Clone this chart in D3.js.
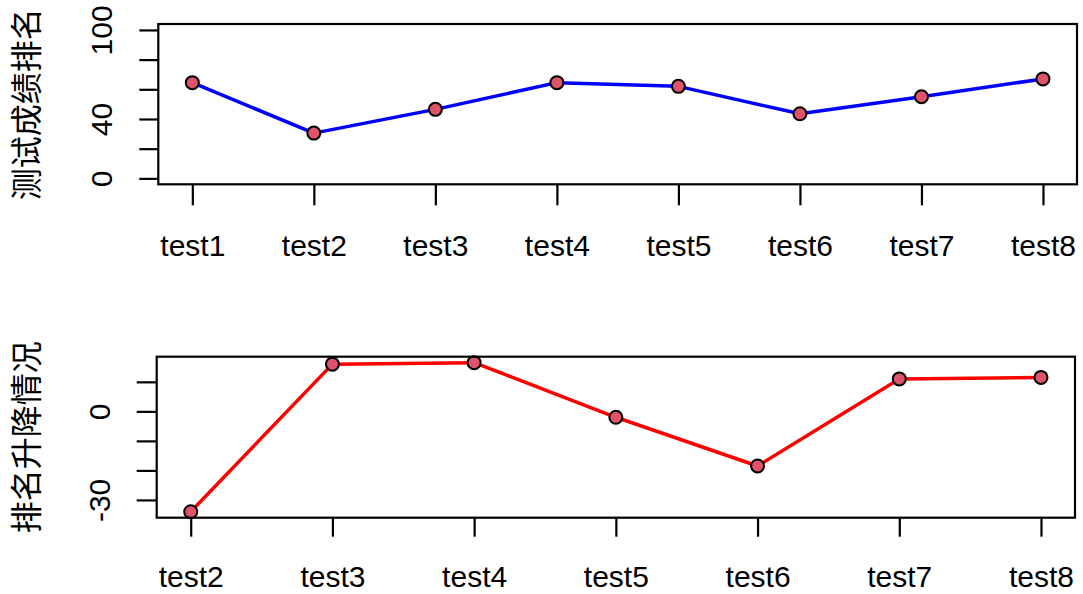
<!DOCTYPE html>
<html>
<head>
<meta charset="utf-8">
<script src="https://cdn.jsdelivr.net/npm/d3@7/dist/d3.min.js"></script>
<style>
  html, body { margin: 0; padding: 0; background: #fff; }
  svg { display: block; }
</style>
</head>
<body>
<svg id="chart" width="1083" height="594"></svg>
<script>
// ---- data ----
const tests1 = ["test1","test2","test3","test4","test5","test6","test7","test8"];
const scores = [64.5, 30.5, 46.5, 64.5, 62, 43.5, 55, 67];
const tests2 = ["test2","test3","test4","test5","test6","test7","test8"];
const changes = [-34, 16, 16.5, -2, -18.5, 11, 11.5];
const yTicks1 = [0, 20, 40, 60, 80, 100];
const yLabels1 = [0, 40, 100];
const yTicks2 = [-30, -20, -10, 0, 10];
const yLabels2 = [-30, 0];
const title1 = "测试成绩排名";
const title2 = "排名升降情况";

const svg = d3.select("#chart");
svg.append("rect").attr("width", 1083).attr("height", 594).attr("fill", "#fff");

const FONT = "'Liberation Sans', Arial, sans-serif";
const CJK = "'Noto Sans CJK SC', sans-serif";

function panel(cfg) {
  const { cats, vals, box, yDomain, yTicks, yLabels, lineColor, title,
          xTick, xLabelOff, yTick, yLabelX } = cfg;
  const n = cats.length;
  const pad = 0.04 * (n - 1);
  const x = d3.scaleLinear().domain([-pad, n - 1 + pad]).range([box.l, box.r]);
  const y = d3.scaleLinear().domain(yDomain).range([box.b, box.t]);

  const g = svg.append("g");

  // line
  const line = d3.line().x((d, i) => x(i)).y(d => y(d));
  g.append("path").datum(vals)
    .attr("d", line).attr("fill", "none")
    .attr("stroke", lineColor).attr("stroke-width", 3.5)
    .attr("stroke-linejoin", "round");

  // points
  g.selectAll("circle.pt").data(vals).join("circle")
    .attr("class", "pt")
    .attr("cx", (d, i) => x(i)).attr("cy", d => y(d))
    .attr("r", 6.5)
    .attr("fill", "#DF536B").attr("stroke", "#000").attr("stroke-width", 2);

  // box
  g.append("rect")
    .attr("x", box.l).attr("y", box.t)
    .attr("width", box.r - box.l).attr("height", box.b - box.t)
    .attr("fill", "none").attr("stroke", "#000").attr("stroke-width", 2.2);

  // x axis
  const xa = d3.axisBottom(x)
    .tickValues(d3.range(n))
    .tickFormat(i => cats[i])
    .tickSize(xTick).tickSizeOuter(0);
  const gx = g.append("g").attr("transform", `translate(0,${box.b})`).call(xa);
  gx.select(".domain").remove();
  gx.selectAll(".tick line").attr("stroke", "#000").attr("stroke-width", 2.2);
  gx.selectAll(".tick text")
    .attr("y", xLabelOff).attr("dy", 0)
    .attr("fill", "#000")
    .style("font-family", FONT).style("font-size", "30px");

  // y axis
  const ya = d3.axisLeft(y)
    .tickValues(yTicks)
    .tickFormat(d => yLabels.includes(d) ? d : "")
    .tickSize(yTick).tickSizeOuter(0);
  const gy = g.append("g").attr("transform", `translate(${box.l},0)`).call(ya);
  gy.select(".domain").remove();
  gy.selectAll(".tick line").attr("stroke", "#000").attr("stroke-width", 2.2);
  gy.selectAll(".tick text")
    .attr("x", 0).attr("dy", 0)
    .attr("transform", `translate(${yLabelX - box.l},0) rotate(-90)`)
    .attr("text-anchor", "middle")
    .attr("fill", "#000")
    .style("font-family", FONT).style("font-size", "30px");

  // title
  g.append("text")
    .attr("transform", `translate(24,${(box.t + box.b) / 2}) rotate(-90)`)
    .attr("text-anchor", "middle").attr("dominant-baseline", "central")
    .attr("fill", "#000")
    .style("font-family", CJK).style("font-size", "32px")
    .text(title);
}

// top panel
panel({
  cats: tests1, vals: scores,
  box: { l: 158.3, r: 1077, t: 24, b: 184.3 },
  yDomain: [-4, 104],
  yTicks: yTicks1, yLabels: yLabels1,
  lineColor: "#0000FF", title: title1,
  xTick: 21, xLabelOff: 72, yTick: 19, yLabelX: 112
});

// bottom panel
const ext = d3.extent(changes);
const r2 = ext[1] - ext[0];
panel({
  cats: tests2, vals: changes,
  box: { l: 156.7, r: 1075, t: 356.7, b: 517.7 },
  yDomain: [ext[0] - 0.04 * r2, ext[1] + 0.04 * r2],
  yTicks: yTicks2, yLabels: yLabels2,
  lineColor: "#FF0000", title: title2,
  xTick: 19, xLabelOff: 69.5, yTick: 20, yLabelX: 110
});
</script>
</body>
</html>
